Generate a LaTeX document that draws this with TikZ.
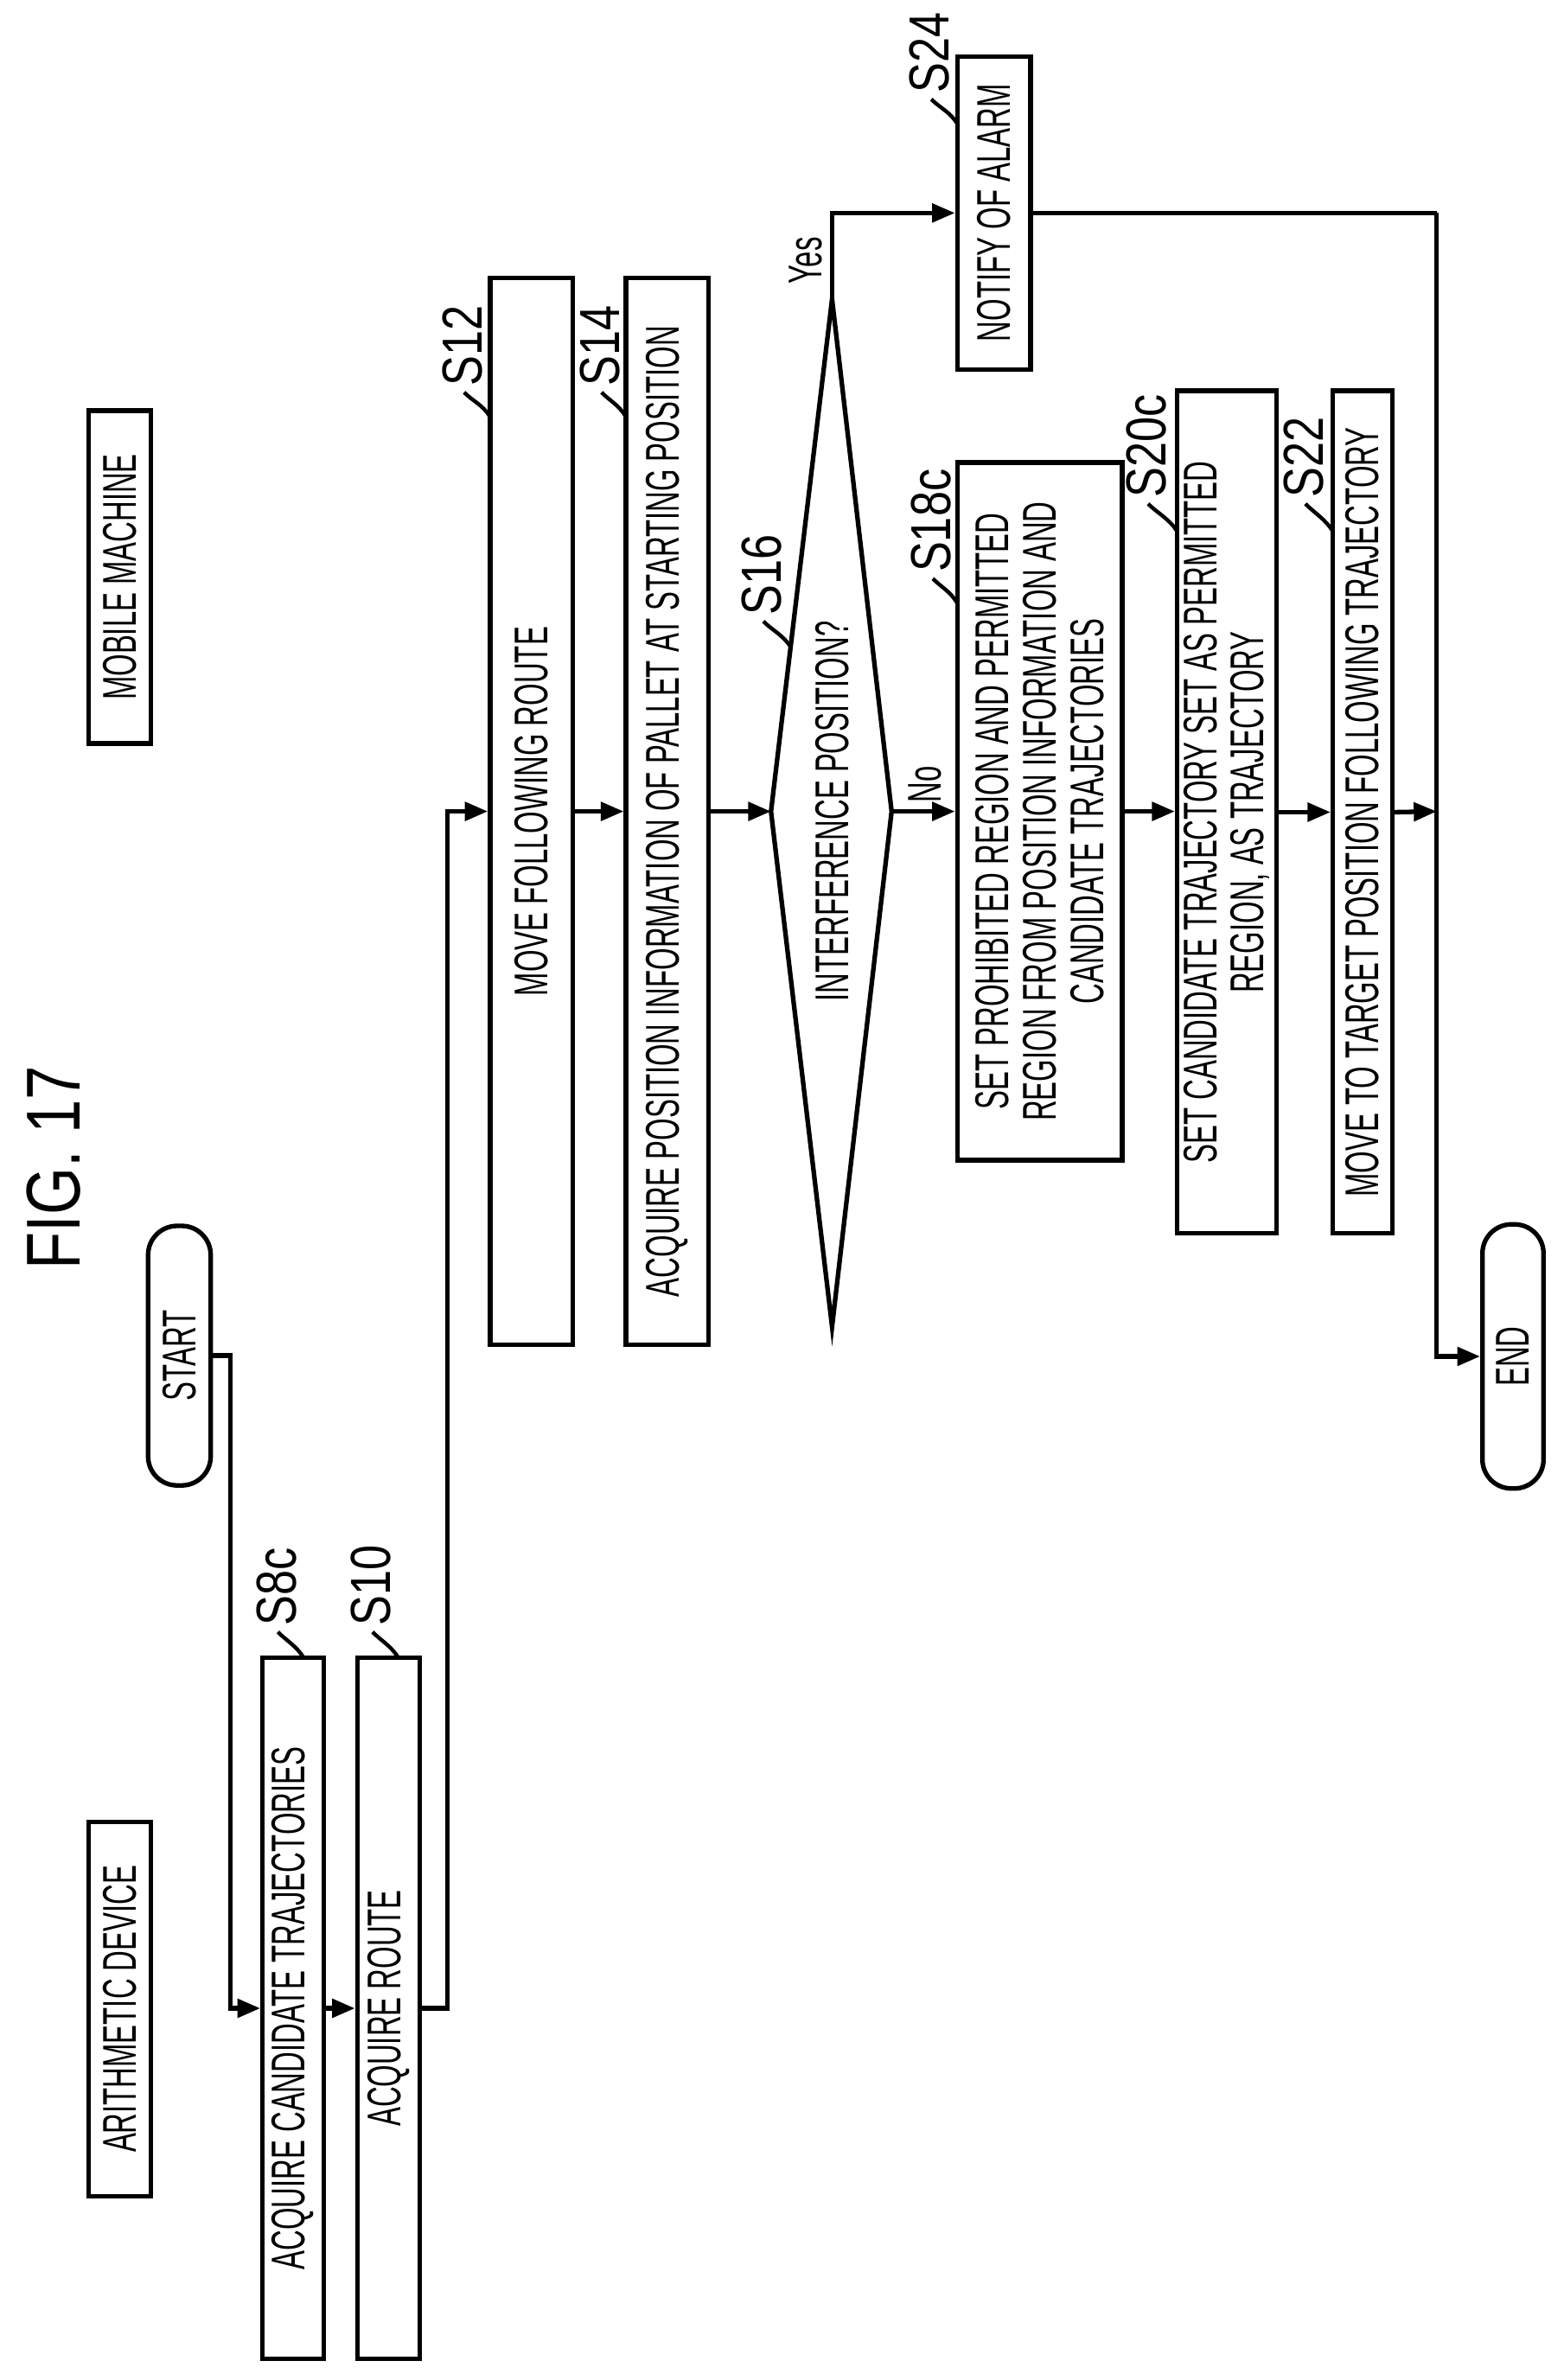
\documentclass[tikz,border=0pt]{standalone}
\usepackage{fontspec}
\setmainfont{Liberation Sans}[FakeStretch=0.6]
\newfontfamily\labfont{Liberation Sans}[FakeStretch=0.8]
\usetikzlibrary{arrows.meta}
\begin{document}
\begin{tikzpicture}[x=1pt,y=-1pt,
  every node/.style={inner sep=0pt},
  box/.style args={#1/#2}{draw, line width=3pt, rotate=90, minimum width=#1pt, minimum height=#2pt, align=center, font=\fontsize{31}{31}\selectfont},
  term/.style args={#1/#2}{box=#1/#2, rounded corners=19pt},
  line/.style={line width=3pt},
  arr/.style={line width=3pt, -{Triangle[length=15pt,width=12pt]}},
  hook/.style={line width=2.5pt},
  lab/.style={rotate=90, anchor=west, font=\labfont\fontsize{37}{37}\selectfont},
  yn/.style={rotate=90, anchor=west, font=\fontsize{31}{31}\selectfont}]
\useasboundingbox (0,0) rectangle (1024,1559);
\node[rotate=90, font=\labfont\fontsize{50}{50}\selectfont] (fig) at (35,765) {FIG. 17};
\node[box=245/41] (arith) at (78.5,1316) {ARITHMETIC DEVICE};
\node[box=218/41] (mobile) at (78.5,378) {MOBILE MACHINE};
\node[term=170/41] (start) at (117.5,888) {START};
\node[box=459/40] (s8c) at (192,1315.5) {ACQUIRE CANDIDATE TRAJECTORIES};
\node[box=459/41] (s10) at (254.5,1315.5) {ACQUIRE ROUTE};
\node[box=699/54] (s12) at (348,531.5) {MOVE FOLLOWING ROUTE};
\node[box=699/54] (s14) at (437,531.5) {ACQUIRE POSITION INFORMATION OF PALLET AT STARTING POSITION};
\coordinate (dl) at (505,531.5);
\coordinate (dr) at (584,531.5);
\coordinate (dt) at (545,196);
\coordinate (db) at (545,869);
\draw[line] (dl) -- (dt) -- (dr) -- (db) -- cycle;
\node[rotate=90, font=\fontsize{31}{31}\selectfont] (s16) at (545,531.5) {INTERFERENCE POSITION?};
\node[box=457/108] (s18c) at (681,531.5) {SET PROHIBITED REGION AND PERMITTED\\REGION FROM POSITION INFORMATION AND\\CANDIDATE TRAJECTORIES};
\node[box=552/65] (s20c) at (803.5,532) {SET CANDIDATE TRAJECTORY SET AS PERMITTED\\REGION, AS TRAJECTORY};
\node[box=552/39] (s22) at (892.5,532) {MOVE TO TARGET POSITION FOLLOWING TRAJECTORY};
\node[box=205/48] (s24) at (651,139.5) {NOTIFY OF ALARM};
\node[term=173/40] (end) at (991,888.5) {END};
\coordinate (j0) at (941,139.5);
\coordinate (j1) at (941,531.5);
% connectors
\draw[arr] (start.south) -- (151,888) |- (s8c.north);
\draw[arr] (s8c.south) -- (s10.north);
\draw[arr] (s10.south) -- (293,1315.5) |- (s12.north);
\draw[arr] (s12.south) -- (s14.north);
\draw[arr] (s14.south) -- (dl);
\draw[arr] (dr) -- (s18c.north);
\draw[arr] (s18c.south) -- (s20c.north |- s18c.south);
\draw[arr] (s20c.south) -- (s22.north);
\draw[arr] (s22.south) -- (j1);
\draw[arr] (dt) |- (s24.north);
\draw[line] (s24.south) -- (j0);
\draw[arr] (j0) |- (end.north);
\node[yn] (yes) at (528,186) {Yes};
\node[yn] (no) at (606,526) {No};
% step labels
\foreach \n/\bx/\by/\tx/\ty in {S8c/199/1086/182/1069, S10/261/1086/244/1069, S12/321/273/304/257, S14/410/273/394/257, S16/518/424/500/407, S18c/627/395/611/379, S20c/771/348/752/330, S22/873/348/855/330, S24/627/81/610/65}{
  \draw[hook] (\bx,\by) .. controls (\bx-5,\by-8) and (\tx+6,\ty+6) .. (\tx,\ty);
  \node[lab] (l\n) at (\tx-1,\ty-4) {\n};
}
\end{tikzpicture}
\end{document}
